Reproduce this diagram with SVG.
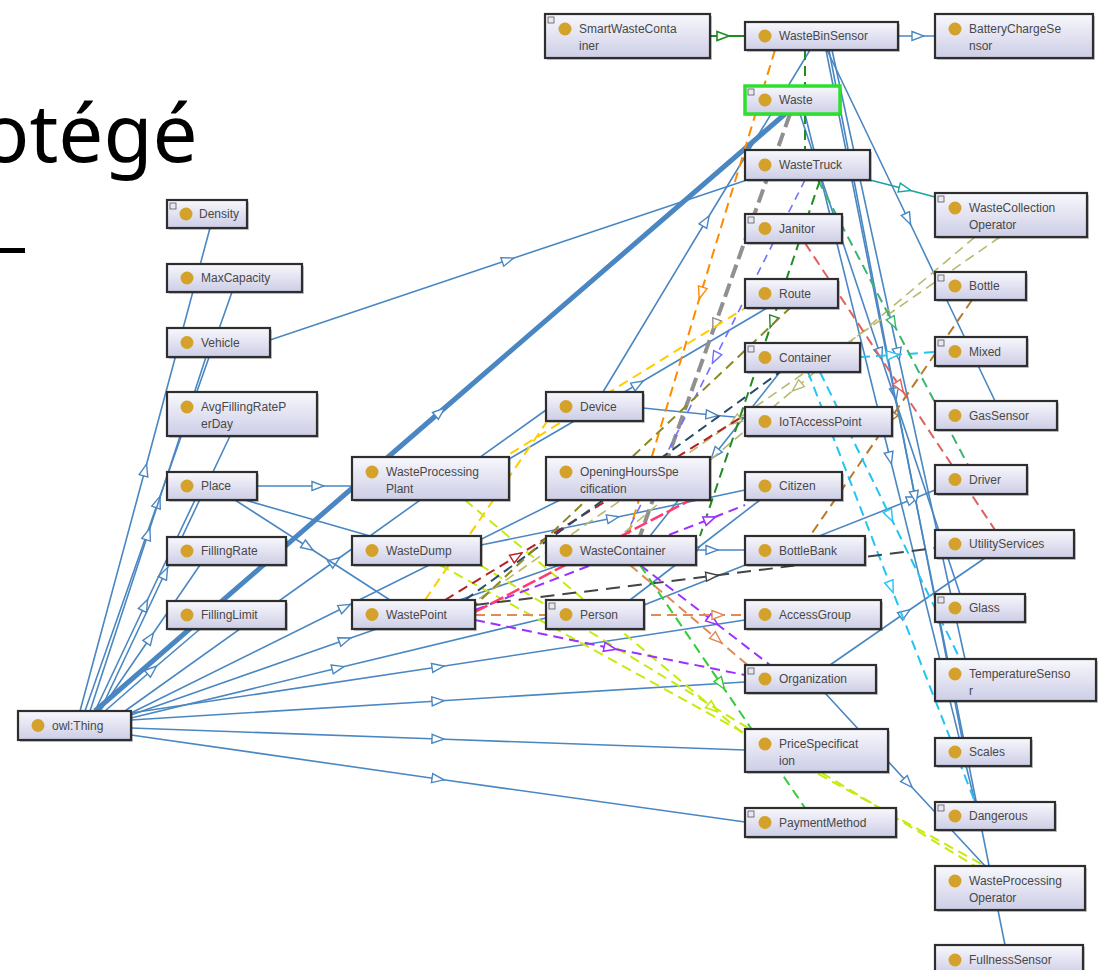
<svg xmlns="http://www.w3.org/2000/svg" width="1100" height="970" viewBox="0 0 1100 970">
<defs>
<linearGradient id="gbox" x1="0" y1="0" x2="0" y2="1">
<stop offset="0" stop-color="#f8f8fd"/><stop offset="1" stop-color="#cdcde6"/>
</linearGradient>
<marker id="a-blue" viewBox="-7 -6 14 12" refX="0" refY="0" markerWidth="14" markerHeight="12" markerUnits="userSpaceOnUse" orient="auto"><path d="M-6,-4.5 L6,0 L-6,4.5 Z" fill="#fff" stroke="#4a87c2" stroke-width="1.4"/></marker>
<marker id="a-dkgreen" viewBox="-7 -6 14 12" refX="0" refY="0" markerWidth="14" markerHeight="12" markerUnits="userSpaceOnUse" orient="auto"><path d="M-6,-4.5 L6,0 L-6,4.5 Z" fill="#fff" stroke="#1f8a1f" stroke-width="1.6"/></marker>
<marker id="a-teal" viewBox="-7 -6 14 12" refX="0" refY="0" markerWidth="14" markerHeight="12" markerUnits="userSpaceOnUse" orient="auto"><path d="M-6,-4.5 L6,0 L-6,4.5 Z" fill="#fff" stroke="#1aa3a3" stroke-width="1.4"/></marker>
<marker id="a-gray" viewBox="-7 -6 14 12" refX="0" refY="0" markerWidth="14" markerHeight="12" markerUnits="userSpaceOnUse" orient="auto"><path d="M-6,-4.5 L6,0 L-6,4.5 Z" fill="#fff" stroke="#909090" stroke-width="1.4"/></marker>
<marker id="a-orange" viewBox="-7 -6 14 12" refX="0" refY="0" markerWidth="14" markerHeight="12" markerUnits="userSpaceOnUse" orient="auto"><path d="M-6,-4.5 L6,0 L-6,4.5 Z" fill="#fff" stroke="#ff8a00" stroke-width="1.4"/></marker>
<marker id="a-bviolet" viewBox="-7 -6 14 12" refX="0" refY="0" markerWidth="14" markerHeight="12" markerUnits="userSpaceOnUse" orient="auto"><path d="M-6,-4.5 L6,0 L-6,4.5 Z" fill="#fff" stroke="#6f6fff" stroke-width="1.4"/></marker>
<marker id="a-olive" viewBox="-7 -6 14 12" refX="0" refY="0" markerWidth="14" markerHeight="12" markerUnits="userSpaceOnUse" orient="auto"><path d="M-6,-4.5 L6,0 L-6,4.5 Z" fill="#fff" stroke="#b8b870" stroke-width="1.4"/></marker>
<marker id="a-brown" viewBox="-7 -6 14 12" refX="0" refY="0" markerWidth="14" markerHeight="12" markerUnits="userSpaceOnUse" orient="auto"><path d="M-6,-4.5 L6,0 L-6,4.5 Z" fill="#fff" stroke="#b87a2a" stroke-width="1.4"/></marker>
<marker id="a-salmon" viewBox="-7 -6 14 12" refX="0" refY="0" markerWidth="14" markerHeight="12" markerUnits="userSpaceOnUse" orient="auto"><path d="M-6,-4.5 L6,0 L-6,4.5 Z" fill="#fff" stroke="#e06060" stroke-width="1.4"/></marker>
<marker id="a-cyan" viewBox="-7 -6 14 12" refX="0" refY="0" markerWidth="14" markerHeight="12" markerUnits="userSpaceOnUse" orient="auto"><path d="M-6,-4.5 L6,0 L-6,4.5 Z" fill="#fff" stroke="#22c4f4" stroke-width="1.4"/></marker>
<marker id="a-sea" viewBox="-7 -6 14 12" refX="0" refY="0" markerWidth="14" markerHeight="12" markerUnits="userSpaceOnUse" orient="auto"><path d="M-6,-4.5 L6,0 L-6,4.5 Z" fill="#fff" stroke="#3cb371" stroke-width="1.4"/></marker>
<marker id="a-fgreen" viewBox="-7 -6 14 12" refX="0" refY="0" markerWidth="14" markerHeight="12" markerUnits="userSpaceOnUse" orient="auto"><path d="M-6,-4.5 L6,0 L-6,4.5 Z" fill="#fff" stroke="#228b22" stroke-width="1.4"/></marker>
<marker id="a-lime" viewBox="-7 -6 14 12" refX="0" refY="0" markerWidth="14" markerHeight="12" markerUnits="userSpaceOnUse" orient="auto"><path d="M-6,-4.5 L6,0 L-6,4.5 Z" fill="#fff" stroke="#c6ea10" stroke-width="1.6"/></marker>
<marker id="a-purple" viewBox="-7 -6 14 12" refX="0" refY="0" markerWidth="14" markerHeight="12" markerUnits="userSpaceOnUse" orient="auto"><path d="M-6,-4.5 L6,0 L-6,4.5 Z" fill="#fff" stroke="#9b30ff" stroke-width="1.6"/></marker>
<marker id="a-dred" viewBox="-7 -6 14 12" refX="0" refY="0" markerWidth="14" markerHeight="12" markerUnits="userSpaceOnUse" orient="auto"><path d="M-6,-4.5 L6,0 L-6,4.5 Z" fill="#fff" stroke="#b22222" stroke-width="1.4"/></marker>
<marker id="a-dgray" viewBox="-7 -6 14 12" refX="0" refY="0" markerWidth="14" markerHeight="12" markerUnits="userSpaceOnUse" orient="auto"><path d="M-6,-4.5 L6,0 L-6,4.5 Z" fill="#fff" stroke="#444" stroke-width="1.4"/></marker>
<marker id="a-peru" viewBox="-7 -6 14 12" refX="0" refY="0" markerWidth="14" markerHeight="12" markerUnits="userSpaceOnUse" orient="auto"><path d="M-6,-4.5 L6,0 L-6,4.5 Z" fill="#fff" stroke="#e08a55" stroke-width="1.4"/></marker>
<marker id="a-green" viewBox="-7 -6 14 12" refX="0" refY="0" markerWidth="14" markerHeight="12" markerUnits="userSpaceOnUse" orient="auto"><path d="M-6,-4.5 L6,0 L-6,4.5 Z" fill="#fff" stroke="#33cc33" stroke-width="1.4"/></marker>
</defs>
<style>
.e{fill:none;stroke:#4a87c2;stroke-width:1.6;marker-mid:url(#a-blue)}
.d{fill:none;stroke-width:2;stroke-dasharray:10 6}
.box{fill:url(#gbox);stroke:#2e2e2e;stroke-width:2.2}
.sh{fill:#000;opacity:.22}
.dot{fill:#d4a12a}
.ic{fill:#e8e8f4;stroke:#555;stroke-width:0.8}
.lbl{font-family:"Liberation Sans",Arial,sans-serif;font-size:12px;fill:#484848}
.big{font-family:"Noto Sans","DejaVu Sans",sans-serif;font-size:80px;fill:#000}
</style>
<rect width="1100" height="970" fill="#fff"/>
<text class="big" x="-19" y="162">otégé</text>
<rect x="0" y="248" width="25" height="5" fill="#000"/>

<g id="connectors">
<polyline class="e" points="80,711 145,470 210,228"/>
<polyline class="e" points="85,711 158,502 232,292"/>
<polyline class="e" points="90,711 148,534 206,357"/>
<polyline class="e" points="100,711 165,573 230,436"/>
<polyline class="e" points="95,711 145,605 195,500"/>
<polyline class="e" points="100,711 150,638 200,565"/>
<polyline class="e" points="105,711 152,670 200,629"/>
<polyline class="e" style="stroke-width:5" points="95,711 440,412 785,114"/>
<polyline class="e" points="125,711 335,561 546,410"/>
<polyline class="e" points="131,713 345,607 560,500"/>
<polyline class="e" points="131,715 345,640 560,565"/>
<polyline class="e" points="131,718 338,668 546,618"/>
<polyline class="e" points="131,713 438,667 745,620"/>
<polyline class="e" points="131,720 438,701 745,682"/>
<polyline class="e" points="131,728 438,739 745,750"/>
<polyline class="e" points="131,735 438,779 745,822"/>
<polyline class="e" points="270,340 508,260 747,180"/>
<polyline class="e" points="603,392 706,221 810,50"/>
<polyline class="e" points="643,408 712,415 745,418"/>
<polyline class="e" points="509,459 638,384 767,308"/>
<polyline class="e" points="257,486 318,486 352,486"/>
<polyline class="e" points="235,500 308,547 390,600"/>
<line x1="245" y1="500" x2="370" y2="536" stroke="#4a87c2" stroke-width="1.6"/>
<polyline class="e" points="780,372 715,454 650,536"/>
<polyline class="e" points="696,550 712,550 745,550"/>
<polyline class="e" points="644,605 913,499 935,490"/>
<polyline class="e" points="630,600 695,550 760,500"/>
<polyline class="e" points="830,665 905,613 985,558"/>
<polyline class="e" points="825,693 908,783 985,866"/>
<polyline class="e" points="827,50 908,219 995,401"/>
<polyline class="e" points="832,50 898,354 965,659"/>
<polyline class="e" points="829,50 895,394 962,738"/>
<polyline class="e" points="826,50 915,497 1005,945"/>
<polyline class="e" points="800,114 880,354 960,594"/>
<polyline class="e" points="805,114 890,458 975,802"/>
<polyline class="e" points="898,36 918,36 935,36"/>
<polyline class="e" points="481,545 613,518 745,490"/>
<polyline fill="none" stroke="#1f8a1f" stroke-width="2" marker-mid="url(#a-dkgreen)" points="710,36 723,36 745,36"/>
<polyline fill="none" stroke="#1aa3a3" stroke-width="1.8" marker-mid="url(#a-teal)" points="870,180 905,189 935,197"/>

<polyline class="d" stroke="#909090" style="stroke-width:4;stroke-dasharray:14 6" marker-mid="url(#a-gray)" points="790,114 715,325 640,536"/>
<polyline class="d" stroke="#ff8a00" marker-mid="url(#a-orange)" points="775,50 701,293 628,536"/>
<polyline class="d" stroke="#6f6fff" style="stroke-width:1.6;stroke-dasharray:8 6" marker-mid="url(#a-bviolet)" points="805,180 715,358 625,536"/>
<line class="d" stroke="#ffcc00" x1="750" y1="305" x2="505" y2="457"/>
<line class="d" stroke="#ffcc00" x1="548" y1="420" x2="425" y2="600"/>
<polyline class="d" stroke="#b8b870" style="stroke-width:1.6" marker-mid="url(#a-olive)" points="975,237 797,387 620,536"/>
<polyline class="d" stroke="#b8b870" style="stroke-width:1.6" marker-mid="url(#a-olive)" points="1000,237 735,421 470,605"/>
<polyline class="d" stroke="#b87a2a" marker-mid="url(#a-brown)" points="972,300 891,418 810,536"/>
<polyline class="d" stroke="#e06060" marker-mid="url(#a-salmon)" points="805,243 900,387 995,530"/>
<polyline class="d" stroke="#22c4f4" marker-mid="url(#a-cyan)" points="860,357 893,355 935,352"/>
<polyline class="d" stroke="#22c4f4" marker-mid="url(#a-cyan)" points="808,372 891,587 975,802"/>
<polyline class="d" stroke="#22c4f4" marker-mid="url(#a-cyan)" points="820,372 890,516 960,659"/>
<polyline class="d" stroke="#3cb371" marker-mid="url(#a-sea)" points="818,180 893,323 968,465"/>
<line class="d" stroke="#228b22" x1="805" y1="50" x2="805" y2="150"/>
<polyline class="d" stroke="#228b22" marker-mid="url(#a-fgreen)" points="820,180 772,322 700,536"/>
<polyline class="d" stroke="#c6ea10" marker-mid="url(#a-lime)" points="465,500 713,708 745,735"/>
<line class="d" stroke="#c6ea10" x1="440" y1="565" x2="985" y2="866"/>
<line class="d" stroke="#c6ea10" x1="480" y1="565" x2="975" y2="866"/>
<polyline class="d" stroke="#9b30ff" marker-mid="url(#a-purple)" points="475,620 610,648 745,675"/>
<polyline class="d" stroke="#9b30ff" marker-mid="url(#a-purple)" points="475,610 710,519 745,505"/>
<polyline class="d" stroke="#9b30ff" marker-mid="url(#a-purple)" points="640,565 713,621 770,665"/>
<line class="d" stroke="#ff3a6e" style="stroke-width:2.5;stroke-dasharray:14 4" x1="475" y1="612" x2="700" y2="495"/>
<polyline class="d" stroke="#b22222" marker-mid="url(#a-dred)" points="445,600 517,556 750,412"/>
<line class="d" stroke="#2a4a6a" x1="465" y1="600" x2="780" y2="372"/>
<line class="d" stroke="#8a8a20" x1="470" y1="610" x2="790" y2="308"/>
<polyline class="d" stroke="#444" style="stroke-dasharray:14 8" marker-mid="url(#a-dgray)" points="475,605 712,576 935,548"/>
<polyline class="d" stroke="#e08a55" marker-mid="url(#a-peru)" points="475,615 718,615 745,615"/>
<polyline class="d" stroke="#e08a55" marker-mid="url(#a-peru)" points="630,565 717,639 765,680"/>
<polyline class="d" stroke="#33cc33" marker-mid="url(#a-green)" points="640,565 721,684 805,808"/>
</g>

<g id="n-SmartWasteContainer" transform="translate(545,14)"><rect class="sh" x="2" y="2" width="165" height="44"/><rect class="box" width="165" height="44"/><rect class="ic" x="3" y="3" width="6" height="6"/><circle class="dot" cx="20" cy="15" r="6.5"/><text class="lbl" x="34" y="19">SmartWasteConta<tspan x="34" y="36">iner</tspan></text></g>
<g id="n-WasteBinSensor" transform="translate(745,22)"><rect class="sh" x="2" y="2" width="153" height="28"/><rect class="box" width="153" height="28"/><circle class="dot" cx="20" cy="14" r="6.5"/><text class="lbl" x="34" y="18">WasteBinSensor</text></g>
<g id="n-BatteryChargeSensor" transform="translate(935,14)"><rect class="sh" x="2" y="2" width="158" height="44"/><rect class="box" width="158" height="44"/><circle class="dot" cx="20" cy="15" r="6.5"/><text class="lbl" x="34" y="19">BatteryChargeSe<tspan x="34" y="36">nsor</tspan></text></g>
<g id="n-Waste" transform="translate(745,86)"><rect class="sh" x="2" y="2" width="95" height="28"/><rect class="box" width="95" height="28" style="stroke:#2ee02e;stroke-width:3.5"/><rect class="ic" x="3" y="3" width="6" height="6"/><circle class="dot" cx="20" cy="14" r="6.5"/><text class="lbl" x="34" y="18">Waste</text></g>
<g id="n-WasteTruck" transform="translate(745,150)"><rect class="sh" x="2" y="2" width="125" height="30"/><rect class="box" width="125" height="30"/><circle class="dot" cx="20" cy="15" r="6.5"/><text class="lbl" x="34" y="19">WasteTruck</text></g>
<g id="n-WasteCollectionOperator" transform="translate(935,193)"><rect class="sh" x="2" y="2" width="152" height="44"/><rect class="box" width="152" height="44"/><rect class="ic" x="3" y="3" width="6" height="6"/><circle class="dot" cx="20" cy="15" r="6.5"/><text class="lbl" x="34" y="19">WasteCollection<tspan x="34" y="36">Operator</tspan></text></g>
<g id="n-Janitor" transform="translate(745,214)"><rect class="sh" x="2" y="2" width="97" height="29"/><rect class="box" width="97" height="29"/><rect class="ic" x="3" y="3" width="6" height="6"/><circle class="dot" cx="20" cy="14.5" r="6.5"/><text class="lbl" x="34" y="18.5">Janitor</text></g>
<g id="n-Route" transform="translate(745,279)"><rect class="sh" x="2" y="2" width="93" height="29"/><rect class="box" width="93" height="29"/><circle class="dot" cx="20" cy="14.5" r="6.5"/><text class="lbl" x="34" y="18.5">Route</text></g>
<g id="n-Bottle" transform="translate(935,272)"><rect class="sh" x="2" y="2" width="91" height="28"/><rect class="box" width="91" height="28"/><rect class="ic" x="3" y="3" width="6" height="6"/><circle class="dot" cx="20" cy="14" r="6.5"/><text class="lbl" x="34" y="18">Bottle</text></g>
<g id="n-Container" transform="translate(745,343)"><rect class="sh" x="2" y="2" width="115" height="29"/><rect class="box" width="115" height="29"/><rect class="ic" x="3" y="3" width="6" height="6"/><circle class="dot" cx="20" cy="14.5" r="6.5"/><text class="lbl" x="34" y="18.5">Container</text></g>
<g id="n-Mixed" transform="translate(935,337)"><rect class="sh" x="2" y="2" width="92" height="29"/><rect class="box" width="92" height="29"/><rect class="ic" x="3" y="3" width="6" height="6"/><circle class="dot" cx="20" cy="14.5" r="6.5"/><text class="lbl" x="34" y="18.5">Mixed</text></g>
<g id="n-Device" transform="translate(546,392)"><rect class="sh" x="2" y="2" width="97" height="29"/><rect class="box" width="97" height="29"/><circle class="dot" cx="20" cy="14.5" r="6.5"/><text class="lbl" x="34" y="18.5">Device</text></g>
<g id="n-IoTAccessPoint" transform="translate(745,407)"><rect class="sh" x="2" y="2" width="147" height="29"/><rect class="box" width="147" height="29"/><circle class="dot" cx="20" cy="14.5" r="6.5"/><text class="lbl" x="34" y="18.5">IoTAccessPoint</text></g>
<g id="n-GasSensor" transform="translate(935,401)"><rect class="sh" x="2" y="2" width="122" height="29"/><rect class="box" width="122" height="29"/><circle class="dot" cx="20" cy="14.5" r="6.5"/><text class="lbl" x="34" y="18.5">GasSensor</text></g>
<g id="n-Density" transform="translate(167,200)"><rect class="sh" x="2" y="2" width="80" height="28"/><rect class="box" width="80" height="28"/><rect class="ic" x="3" y="3" width="6" height="6"/><circle class="dot" cx="19" cy="14" r="6.5"/><text class="lbl" x="32" y="18">Density</text></g>
<g id="n-MaxCapacity" transform="translate(167,264)"><rect class="sh" x="2" y="2" width="135" height="28"/><rect class="box" width="135" height="28"/><circle class="dot" cx="20" cy="14" r="6.5"/><text class="lbl" x="34" y="18">MaxCapacity</text></g>
<g id="n-Vehicle" transform="translate(167,328)"><rect class="sh" x="2" y="2" width="103" height="29"/><rect class="box" width="103" height="29"/><circle class="dot" cx="20" cy="14.5" r="6.5"/><text class="lbl" x="34" y="18.5">Vehicle</text></g>
<g id="n-AvgFillingRatePerDay" transform="translate(167,392)"><rect class="sh" x="2" y="2" width="150" height="44"/><rect class="box" width="150" height="44"/><circle class="dot" cx="20" cy="15" r="6.5"/><text class="lbl" x="34" y="19">AvgFillingRateP<tspan x="34" y="36">erDay</tspan></text></g>
<g id="n-Place" transform="translate(167,472)"><rect class="sh" x="2" y="2" width="90" height="28"/><rect class="box" width="90" height="28"/><circle class="dot" cx="20" cy="14" r="6.5"/><text class="lbl" x="34" y="18">Place</text></g>
<g id="n-FillingRate" transform="translate(167,537)"><rect class="sh" x="2" y="2" width="119" height="28"/><rect class="box" width="119" height="28"/><circle class="dot" cx="20" cy="14" r="6.5"/><text class="lbl" x="34" y="18">FillingRate</text></g>
<g id="n-FillingLimit" transform="translate(167,601)"><rect class="sh" x="2" y="2" width="119" height="28"/><rect class="box" width="119" height="28"/><circle class="dot" cx="20" cy="14" r="6.5"/><text class="lbl" x="34" y="18">FillingLimit</text></g>
<g id="n-owlThing" transform="translate(18,711)"><rect class="sh" x="2" y="2" width="113" height="29"/><rect class="box" width="113" height="29"/><circle class="dot" cx="20" cy="14.5" r="6.5"/><text class="lbl" x="34" y="18.5">owl:Thing</text></g>
<g id="n-WasteProcessingPlant" transform="translate(352,457)"><rect class="sh" x="2" y="2" width="157" height="43"/><rect class="box" width="157" height="43"/><circle class="dot" cx="20" cy="15" r="6.5"/><text class="lbl" x="34" y="19">WasteProcessing<tspan x="34" y="36">Plant</tspan></text></g>
<g id="n-WasteDump" transform="translate(352,536)"><rect class="sh" x="2" y="2" width="129" height="29"/><rect class="box" width="129" height="29"/><circle class="dot" cx="20" cy="14.5" r="6.5"/><text class="lbl" x="34" y="18.5">WasteDump</text></g>
<g id="n-WastePoint" transform="translate(352,600)"><rect class="sh" x="2" y="2" width="123" height="29"/><rect class="box" width="123" height="29"/><circle class="dot" cx="20" cy="14.5" r="6.5"/><text class="lbl" x="34" y="18.5">WastePoint</text></g>
<g id="n-OpeningHoursSpecification" transform="translate(546,457)"><rect class="sh" x="2" y="2" width="164" height="43"/><rect class="box" width="164" height="43"/><circle class="dot" cx="20" cy="15" r="6.5"/><text class="lbl" x="34" y="19">OpeningHoursSpe<tspan x="34" y="36">cification</tspan></text></g>
<g id="n-WasteContainer" transform="translate(546,536)"><rect class="sh" x="2" y="2" width="150" height="29"/><rect class="box" width="150" height="29"/><circle class="dot" cx="20" cy="14.5" r="6.5"/><text class="lbl" x="34" y="18.5">WasteContainer</text></g>
<g id="n-Person" transform="translate(546,600)"><rect class="sh" x="2" y="2" width="98" height="29"/><rect class="box" width="98" height="29"/><rect class="ic" x="3" y="3" width="6" height="6"/><circle class="dot" cx="20" cy="14.5" r="6.5"/><text class="lbl" x="34" y="18.5">Person</text></g>
<g id="n-Citizen" transform="translate(745,472)"><rect class="sh" x="2" y="2" width="97" height="28"/><rect class="box" width="97" height="28"/><circle class="dot" cx="20" cy="14" r="6.5"/><text class="lbl" x="34" y="18">Citizen</text></g>
<g id="n-BottleBank" transform="translate(745,536)"><rect class="sh" x="2" y="2" width="120" height="29"/><rect class="box" width="120" height="29"/><circle class="dot" cx="20" cy="14.5" r="6.5"/><text class="lbl" x="34" y="18.5">BottleBank</text></g>
<g id="n-AccessGroup" transform="translate(745,600)"><rect class="sh" x="2" y="2" width="136" height="29"/><rect class="box" width="136" height="29"/><circle class="dot" cx="20" cy="14.5" r="6.5"/><text class="lbl" x="34" y="18.5">AccessGroup</text></g>
<g id="n-Organization" transform="translate(745,665)"><rect class="sh" x="2" y="2" width="131" height="28"/><rect class="box" width="131" height="28"/><rect class="ic" x="3" y="3" width="6" height="6"/><circle class="dot" cx="20" cy="14" r="6.5"/><text class="lbl" x="34" y="18">Organization</text></g>
<g id="n-PriceSpecification" transform="translate(745,729)"><rect class="sh" x="2" y="2" width="143" height="43"/><rect class="box" width="143" height="43"/><circle class="dot" cx="20" cy="15" r="6.5"/><text class="lbl" x="34" y="19">PriceSpecificat<tspan x="34" y="36">ion</tspan></text></g>
<g id="n-PaymentMethod" transform="translate(745,808)"><rect class="sh" x="2" y="2" width="151" height="29"/><rect class="box" width="151" height="29"/><rect class="ic" x="3" y="3" width="6" height="6"/><circle class="dot" cx="20" cy="14.5" r="6.5"/><text class="lbl" x="34" y="18.5">PaymentMethod</text></g>
<g id="n-Driver" transform="translate(935,465)"><rect class="sh" x="2" y="2" width="92" height="29"/><rect class="box" width="92" height="29"/><circle class="dot" cx="20" cy="14.5" r="6.5"/><text class="lbl" x="34" y="18.5">Driver</text></g>
<g id="n-UtilityServices" transform="translate(935,530)"><rect class="sh" x="2" y="2" width="139" height="28"/><rect class="box" width="139" height="28"/><circle class="dot" cx="20" cy="14" r="6.5"/><text class="lbl" x="34" y="18">UtilityServices</text></g>
<g id="n-Glass" transform="translate(935,594)"><rect class="sh" x="2" y="2" width="90" height="28"/><rect class="box" width="90" height="28"/><rect class="ic" x="3" y="3" width="6" height="6"/><circle class="dot" cx="20" cy="14" r="6.5"/><text class="lbl" x="34" y="18">Glass</text></g>
<g id="n-TemperatureSensor" transform="translate(935,659)"><rect class="sh" x="2" y="2" width="161" height="42"/><rect class="box" width="161" height="42"/><circle class="dot" cx="20" cy="15" r="6.5"/><text class="lbl" x="34" y="19">TemperatureSenso<tspan x="34" y="36">r</tspan></text></g>
<g id="n-Scales" transform="translate(935,738)"><rect class="sh" x="2" y="2" width="96" height="28"/><rect class="box" width="96" height="28"/><circle class="dot" cx="20" cy="14" r="6.5"/><text class="lbl" x="34" y="18">Scales</text></g>
<g id="n-Dangerous" transform="translate(935,802)"><rect class="sh" x="2" y="2" width="120" height="28"/><rect class="box" width="120" height="28"/><rect class="ic" x="3" y="3" width="6" height="6"/><circle class="dot" cx="20" cy="14" r="6.5"/><text class="lbl" x="34" y="18">Dangerous</text></g>
<g id="n-WasteProcessingOperator" transform="translate(935,866)"><rect class="sh" x="2" y="2" width="150" height="44"/><rect class="box" width="150" height="44"/><circle class="dot" cx="20" cy="15" r="6.5"/><text class="lbl" x="34" y="19">WasteProcessing<tspan x="34" y="36">Operator</tspan></text></g>
<g id="n-FullnessSensor" transform="translate(935,945)"><rect class="sh" x="2" y="2" width="148" height="30"/><rect class="box" width="148" height="30"/><circle class="dot" cx="20" cy="15" r="6.5"/><text class="lbl" x="34" y="19">FullnessSensor</text></g>
</svg>
